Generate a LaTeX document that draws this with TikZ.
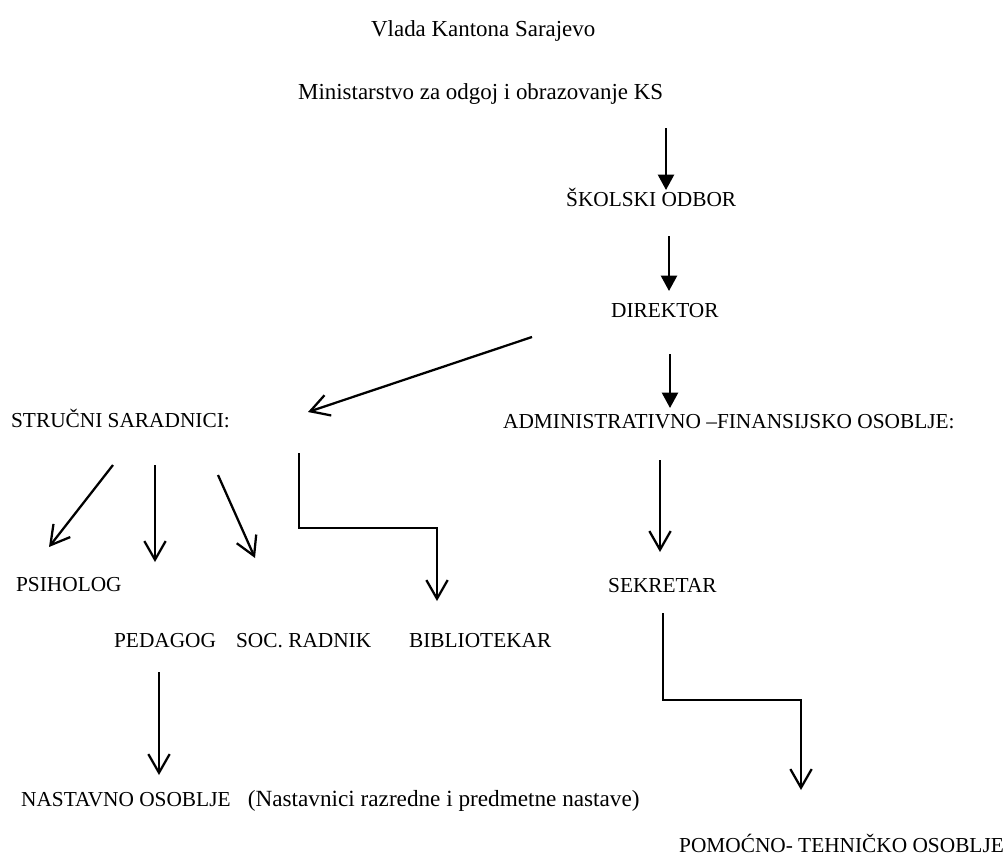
\documentclass[tikz,border=0pt]{standalone}
\usepackage{fontspec}
\setmainfont{Liberation Serif}
\usetikzlibrary{arrows.meta}

\tikzset{every picture/.style={line width=1.7pt}}
\tikzset{
	label text/.style={anchor=base west, inner sep=0pt, font=\fontsize{16}{19}\selectfont},
	title text/.style={label text, font=\fontsize{17.2}{20}\selectfont},
	solidtip/.style={-{Triangle[length=11.5pt,width=12pt]}},
	barbtip/.style={-{Straight Barb[length=14pt,width=16pt]}}}

\begin{document}
\begin{tikzpicture}[x=0.75pt,y=0.75pt,yscale=-1,xscale=1]
	\useasboundingbox (0,0) rectangle (1003,865);

	% Text Node
	\node[title text] (vlada) at (370,36) {Vlada Kantona Sarajevo};
	% Text Node
	\node[title text] (ministarstvo) at (297,99) {Ministarstvo za odgoj i obrazovanje KS};
	% Text Node
	\node[label text] (odbor) at (565,206) {ŠKOLSKI ODBOR};
	% Text Node
	\node[label text] (direktor) at (610,317) {DIREKTOR};
	% Text Node
	\node[label text] (saradnici) at (10,427) {STRUČNI SARADNICI:};
	% Text Node
	\node[label text] (admin) at (502,428) {ADMINISTRATIVNO –FINANSIJSKO OSOBLJE:};
	% Text Node
	\node[label text] (psiholog) at (15,591) {PSIHOLOG};
	% Text Node
	\node[label text] (sekretar) at (607,592) {SEKRETAR};
	% Text Node
	\node[label text] (pedagog) at (113,647) {PEDAGOG};
	% Text Node
	\node[label text] (socradnik) at (235,647) {SOC. RADNIK};
	% Text Node
	\node[label text] (bibliotekar) at (408,647) {BIBLIOTEKAR};
	% Text Node
	\node[label text] (nastavno) at (20,806) {NASTAVNO OSOBLJE\hspace{13pt}{\fontsize{17.4}{20}\selectfont(Nastavnici razredne i predmetne nastave)}};
	% Text Node
	\node[label text] (pomocno) at (678,852) {POMOĆNO- TEHNIČKO OSOBLJE};

	% Coordinates
	\coordinate (minOut) at (666,128);
	\coordinate (odborIn) at (666,190);
	\coordinate (odborOut) at (669,236);
	\coordinate (direktorIn) at (669,291);
	\coordinate (direktorOut) at (670,354);
	\coordinate (adminIn) at (670,408);
	\coordinate (direktorLeft) at (532,337);
	\coordinate (saradniciIn) at (308,412);
	\coordinate (psihologOut) at (113,465);
	\coordinate (psihologIn) at (49,547);
	\coordinate (pedagogOut) at (155,465);
	\coordinate (pedagogIn) at (155,562);
	\coordinate (socOut) at (218,475);
	\coordinate (socIn) at (255,558);
	\coordinate (bibOut) at (299,453);
	\coordinate (bibIn) at (437,601);
	\coordinate (adminOut) at (660,460);
	\coordinate (sekretarIn) at (660,552);
	\coordinate (sekretarOut) at (663,613);
	\coordinate (pomocnoIn) at (801,790);
	\coordinate (nastavnoOut) at (159,672);
	\coordinate (nastavnoIn) at (159,775);

	%Straight Lines
	\draw[solidtip] (minOut) -- (odborIn);
	%Straight Lines
	\draw[solidtip] (odborOut) -- (direktorIn);
	%Straight Lines
	\draw[solidtip] (direktorOut) -- (adminIn);
	%Straight Lines
	\draw[barbtip] (direktorLeft) -- (saradniciIn);
	%Straight Lines
	\draw[barbtip] (psihologOut) -- (psihologIn);
	%Straight Lines
	\draw[barbtip] (pedagogOut) -- (pedagogIn);
	%Straight Lines
	\draw[barbtip] (socOut) -- (socIn);
	%Straight Lines
	\draw[barbtip] (bibOut) |- (437,528) -- (bibIn);
	%Straight Lines
	\draw[barbtip] (adminOut) -- (sekretarIn);
	%Straight Lines
	\draw[barbtip] (sekretarOut) |- (801,700) -- (pomocnoIn);
	%Straight Lines
	\draw[barbtip] (nastavnoOut) -- (nastavnoIn);

\end{tikzpicture}
\end{document}
